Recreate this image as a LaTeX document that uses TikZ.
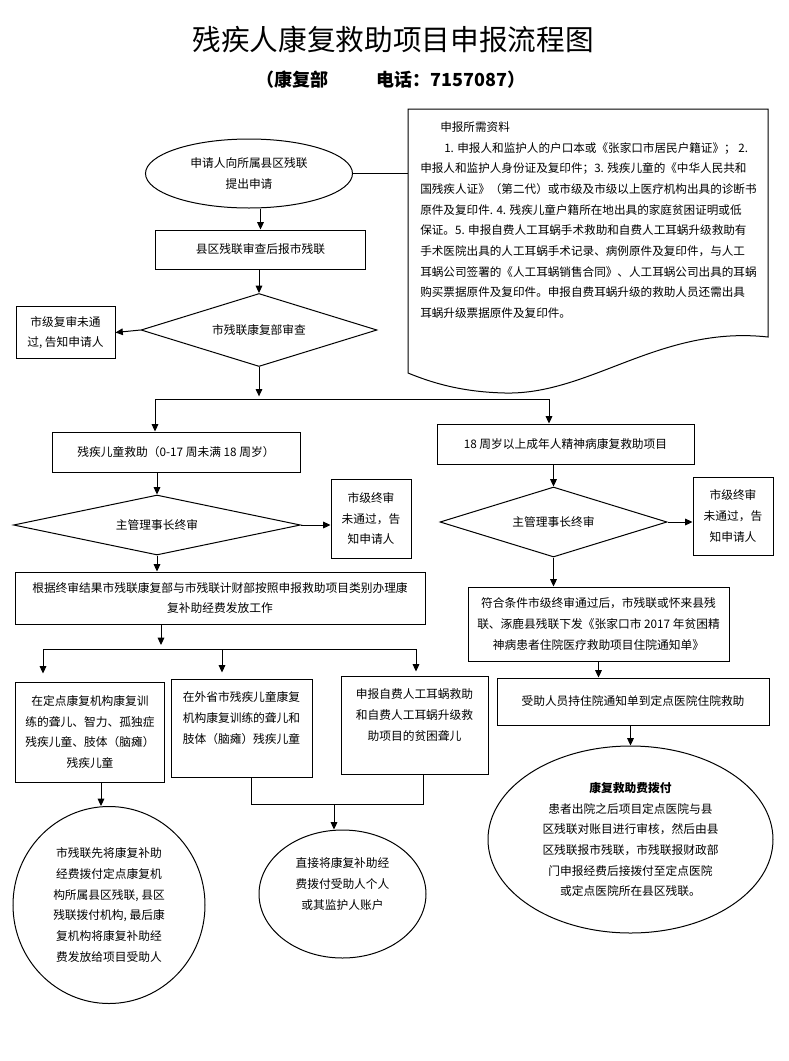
\documentclass[tikz,border=0pt]{standalone}
\usepackage{fontspec}
\setmainfont{Noto Sans CJK SC}
\usetikzlibrary{calc,shapes.geometric,arrows.meta}

\begin{document}
\begin{tikzpicture}[x=0.75pt,y=-0.75pt,
	every node/.style={font={\fontsize{8.8pt}{15.5pt}\selectfont}, align=center, inner sep=2pt},
	box/.style={draw, line width=0.75pt, rectangle},
	oval/.style={draw, line width=0.75pt, ellipse, inner sep=0pt},
	check/.style={draw, line width=0.75pt, diamond, aspect=3, inner sep=0pt},
	arr/.style={line width=0.75pt, -{Triangle[length=5.5pt,width=5pt]}},
	link/.style={line width=0.75pt}]
	\path[fill=white] (0,0) rectangle (789,1061);
	\useasboundingbox (0,0) rectangle (789,1061);

	% title
	\node[font={\fontsize{21.5pt}{26pt}\selectfont}] (title) at (393,40) {残疾人康复救助项目申报流程图};
	\node[font={\bfseries\fontsize{13.5pt}{16pt}\selectfont}] (phone) at (391,80) {（康复部\hspace{36pt}电话：7157087）};

	% document with the list of papers
	\draw[link] (408,109) -- (768,109) -- (768,337) .. controls (660,325) and (590,395) .. (505,393) .. controls (460,392) and (430,382) .. (408,373) -- cycle;
	\coordinate (docleft) at (408,173.5);
	\node[anchor=north west, align=left, inner sep=0pt, font={\fontsize{8.7pt}{15.5pt}\selectfont}] (papers) at (420,121.5) {\hspace{15pt}申报所需资料\\
\hspace{18pt}1. 申报人和监护人的户口本或《张家口市居民户籍证》； 2.\\
申报人和监护人身份证及复印件；3. 残疾儿童的《中华人民共和\\
国残疾人证》（第二代）或市级及市级以上医疗机构出具的诊断书\\
原件及复印件. 4. 残疾儿童户籍所在地出具的家庭贫困证明或低\\
保证。5. 申报自费人工耳蜗手术救助和自费人工耳蜗升级救助有\\
手术医院出具的人工耳蜗手术记录、病例原件及复印件，与人工\\
耳蜗公司签署的《人工耳蜗销售合同》、人工耳蜗公司出具的耳蜗\\
购买票据原件及复印件。申报自费耳蜗升级的救助人员还需出具\\
耳蜗升级票据原件及复印件。};

	% upper part
	\node[oval, minimum width=155.25pt, minimum height=51.75pt] (apply) at (249,173.5) {申请人向所属县区残联\\提出申请};
	\node[box, minimum width=157.5pt, minimum height=29.25pt] (county) at (260.5,249.5) {县区残联审查后报市残联};
	\node[check, minimum width=177pt, minimum height=54.75pt] (review) at (259,330) {市残联康复部审查};
	\node[box, minimum width=74.25pt, minimum height=39pt] (reject1) at (65.5,332.5) {市级复审未通\\过, 告知申请人};

	% children
	\node[box, minimum width=186pt, minimum height=30pt] (child) at (176,452) {残疾儿童救助（0-17 周未满 18 周岁）};
	\node[check, minimum width=215.25pt, minimum height=45pt] (final1) at (157,525) {主管理事长终审};
	\node[box, minimum width=60pt, minimum height=59.25pt] (reject2) at (371,518.5) {市级终审\\未通过，告\\知申请人};
	\node[box, minimum width=307.5pt, minimum height=39pt] (fund) at (220,598) {根据终审结果市残联康复部与市残联计财部按照申报救助项目类别办理康\\复补助经费发放工作};
	\node[box, minimum width=111.75pt, minimum height=75pt] (site) at (90,732) {在定点康复机构康复训\\练的聋儿、智力、孤独症\\残疾儿童、肢体（脑瘫）\\残疾儿童};
	\node[box, minimum width=105.75pt, minimum height=73.5pt] (away) at (241.5,728) {在外省市残疾儿童康复\\机构康复训练的聋儿和\\肢体（脑瘫）残疾儿童\\\mbox{}};
	\node[box, minimum width=110.25pt, minimum height=73.5pt] (implant) at (414.5,725) {申报自费人工耳蜗救助\\和自费人工耳蜗升级救\\助项目的贫困聋儿\\\mbox{}};
	\node[oval, minimum width=144pt, minimum height=147.75pt] (pay1) at (109,905) {市残联先将康复补助\\经费拨付定点康复机\\构所属县区残联, 县区\\残联拨付机构, 最后康\\复机构将康复补助经\\费发放给项目受助人};
	\node[oval, minimum width=125.25pt, minimum height=96pt] (pay2) at (342.5,894) {直接将康复补助经\\费拨付受助人个人\\或其监护人账户\\\mbox{}};

	% adults
	\node[box, minimum width=192.75pt, minimum height=30pt] (adult) at (565.5,444) {18 周岁以上成年人精神病康复救助项目};
	\node[check, minimum width=170.25pt, minimum height=52.5pt] (final2) at (553.5,522) {主管理事长终审};
	\node[box, minimum width=60pt, minimum height=58.5pt] (reject3) at (733,516) {市级终审\\未通过，告\\知申请人};
	\node[box, minimum width=195.75pt, minimum height=55.5pt] (notice) at (598.5,624) {符合条件市级终审通过后，市残联或怀来县残\\联、涿鹿县残联下发《张家口市 2017 年贫困精\\神病患者住院医疗救助项目住院通知单》};
	\node[box, minimum width=204pt, minimum height=35.25pt] (hosp) at (633,701.5) {受助人员持住院通知单到定点医院住院救助};
	\node[oval, minimum width=213.75pt, minimum height=140.25pt] (pay3) at (630.5,839.5) {\textbf{康复救助费拨付}\\患者出院之后项目定点医院与县\\区残联对账目进行审核，然后由县\\区残联报市残联，市残联报财政部\\门申报经费后接拨付至定点医院\\或定点医院所在县区残联。};

	% connectors
	\draw[link] (apply.east) -- (docleft);
	\draw[arr] (county.north |- apply.south) -- (county.north);
	\draw[arr] (review.north |- county.south) -- (review.north);
	\draw[arr] (review.west) -- (reject1.east);

	\coordinate (sl) at (155,399);
	\coordinate (sr) at (549,399);
	\draw[arr, shorten >=2pt] (review.south) -- (review.south |- sl);
	\draw[link] (sl) -- (sr);
	\draw[arr] (sl) -- (sl |- child.north);
	\draw[arr] (sr) -- (sr |- adult.north);

	\draw[arr] (final1.north |- child.south) -- (final1.north);
	\draw[arr] (final1.east) -- (final1.east -| reject2.west);
	\draw[arr] (final1.south) -- (final1.south |- fund.north);

	\coordinate (s2) at (161,649);
	\coordinate (s2a) at (43,649);
	\coordinate (s2b) at (222,649);
	\coordinate (s2c) at (416,649);
	\draw[arr, shorten >=3pt] (s2 |- fund.south) -- (s2);
	\draw[link] (s2a) -- (s2c);
	\draw[arr, shorten >=6pt] (s2a) -- (s2a |- site.north);
	\draw[arr, shorten >=4.5pt] (s2b) -- (s2b |- away.north);
	\draw[arr, shorten >=3pt] (s2c) -- (s2c |- implant.north);

	\coordinate (drop1) at ($(site.south)+(11,0)$);
	\draw[arr] (drop1) -- (drop1 |- pay1.north);
	\coordinate (merge) at (334,804);
	\draw[link] ($(away.south)+(9.5,0)$) |- (merge);
	\draw[link] ($(implant.south)+(8.5,0)$) |- (merge);
	\draw[arr] (merge) -- (merge |- pay2.north);

	\draw[arr] (final2.north |- adult.south) -- (final2.north);
	\draw[arr] (final2.east) -- (final2.east -| reject3.west);
	\draw[arr] (final2.south) -- (final2.south |- notice.north);
	\draw[arr] (notice.south) -- (notice.south |- hosp.north);
	\draw[arr] (pay3.north |- hosp.south) -- (pay3.north);
\end{tikzpicture}
\end{document}
